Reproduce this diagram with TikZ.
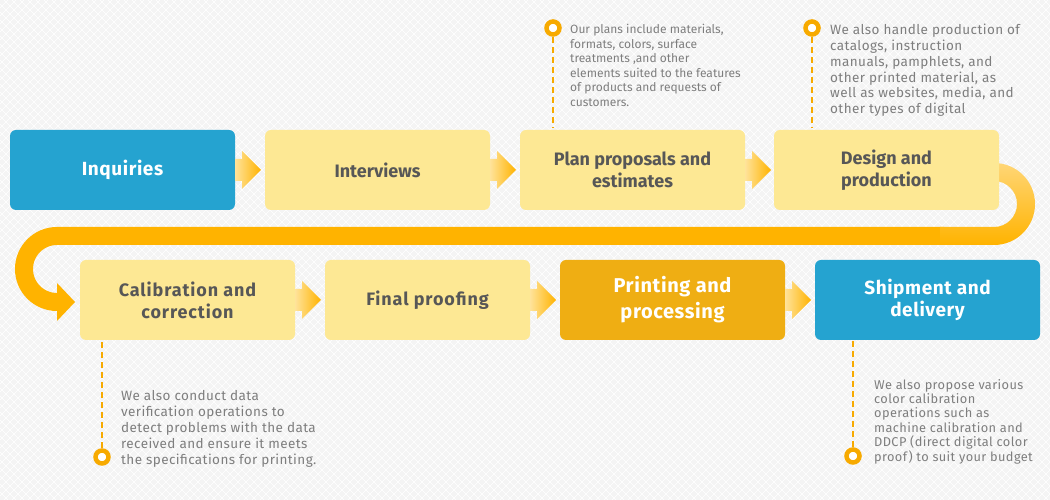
\documentclass[tikz,border=0pt]{standalone}
\usepackage{fontspec}
\setmainfont{Fira Sans}
\usetikzlibrary{positioning, calc, backgrounds}

\definecolor{flowblue}{HTML}{25A3D0}
\definecolor{flowpale}{HTML}{FDE894}
\definecolor{flowgold}{HTML}{EFAE13}
\definecolor{flowamber}{HTML}{FFB300}
\definecolor{flowlight}{HTML}{FFE39A}
\definecolor{bandlight}{HTML}{FFD676}
\definecolor{flowink}{HTML}{575757}
\definecolor{notegrey}{HTML}{7E7E7E}
\definecolor{dotorange}{HTML}{F7AA00}
\definecolor{bgpaper}{HTML}{F4F4F4}

\begin{document}
\begin{tikzpicture}[
    x=1pt, y=1pt,
    stage/.style={rectangle, fill=flowpale, rounded corners=6pt, minimum height=80pt, inner sep=0pt, outer sep=0pt, align=center, text=flowink, font=\fontsize{18}{22}\selectfont\bfseries},
    widestage/.style={stage, font=\fontsize{18}{22}\selectfont\bfseries\addfontfeature{LetterSpace=5}},
    keystage/.style={stage, fill=flowblue, text=white, font=\fontsize{19}{22}\selectfont\bfseries\addfontfeature{LetterSpace=3}},
    stepflow/.style={left color=flowlight, right color=flowamber},
    band/.style={draw=flowamber, line width=18pt},
    bandshade/.style={top color=bandlight, bottom color=flowamber},
    dot/.style={circle, draw=dotorange, line width=4.5pt, fill=white, minimum size=13pt, inner sep=0pt},
    leader/.style={draw=dotorange, line width=2pt, dash pattern=on 6pt off 4pt},
    note/.style={anchor=north west, inner sep=0pt, align=left, text=notegrey, font=\fontsize{12}{15.5}\selectfont\addfontfeature{LetterSpace=3}}
]
    \useasboundingbox (0,0) rectangle (1050,500);

    \node[keystage, minimum width=225pt] (inq) at (122.5,330) {Inquiries};
    \node[stage, minimum width=225pt, right=30pt of inq] (intv) {Interviews};
    \node[stage, minimum width=225pt, right=30pt of intv] (plan) {Plan proposals and\\estimates};
    \node[stage, minimum width=225pt, right=29pt of plan] (design) {Design and\\production};

    \node[widestage, minimum width=215pt] (calib) at (187.5,200) {Calibration and\\correction};
    \node[widestage, minimum width=205pt, right=30pt of calib] (final) {Final proofing};
    \node[keystage, fill=flowgold, minimum width=225pt, right=30pt of final, font=\fontsize{20}{26}\selectfont\bfseries\addfontfeature{LetterSpace=3}] (print) {Printing and\\processing};
    \node[keystage, minimum width=225pt, right=30pt of print] (ship) {Shipment and\\delivery};

    \foreach \a/\b in {inq/intv, intv/plan, plan/design, calib/final, final/print, print/ship}
        \shade[stepflow] ($(\a.east)+(0,11)$) -- ++(7,0) -- ++(0,8) -- ++(19,-19) -- ++(-19,-19) -- ++(0,8) -- ++(-7,0) -- cycle;

    \coordinate (turnR) at ($(design.east)+(-5,-34)$);
    \begin{scope}[on background layer]
        \fill[bgpaper] (0,0) rectangle (1050,500);
        \clip (0,0) rectangle (1050,500);
        \foreach \k in {-500,-492,...,1050} {
            \draw[white, line width=0.6pt] (\k,0) -- ++(500,500);
            \draw[white, line width=0.6pt] (\k+500,0) -- ++(-500,500);
        }
        \draw[band] ($(turnR)+(-50,-32)$) -- ($(calib.west)+(-23,64)$) arc[start angle=90, end angle=270, radius=33] -- ++(1,0);
        \fill[flowamber] ($(calib.west)+(-23,17)$) -- ($(calib.west)+(-5,-2)$) -- ($(calib.west)+(-23,-21)$) -- cycle;
        \shade[bandshade] ($(turnR)+(-15,41)$) -- ++(15,0) arc[start angle=90, end angle=-90, radius=41] -- ++(-54,0) -- ++(0,18) -- ++(54,0) arc[start angle=-90, end angle=90, radius=23] -- ++(-15,0) -- cycle;
    \end{scope}

    \node[dot] (dot1) at (553,472) {};
    \node[dot] (dot2) at (812,472) {};
    \node[dot] (dot3) at (102,43) {};
    \node[dot] (dot4) at (853,44) {};

    \draw[leader] (dot1.south) -- ($(dot1.south |- plan.north)+(0,2)$);
    \draw[leader] (dot2.south) -- ($(dot2.south |- design.north)+(0,2)$);
    \draw[leader] (dot3.north) -- ($(dot3.north |- calib.south)+(0,-1)$);
    \draw[leader] (dot4.north) -- ($(dot4.north |- ship.south)+(0,-1)$);

    \node[note, font=\fontsize{12}{14.5}\selectfont] (note1) at (570,476) {Our plans include materials,\\formats, colors, surface\\treatments ,and other\\elements suited to the features\\of products and requests of\\customers.};
    \node[note, font=\fontsize{13.5}{15.8}\selectfont\addfontfeature{LetterSpace=3}] (note2) at (830,476) {We also handle production of\\catalogs, instruction\\manuals, pamphlets, and\\other printed material, as\\well as websites, media, and\\other types of digital};
    \node[note, font=\fontsize{13.5}{16}\selectfont\addfontfeature{LetterSpace=3}] (note3) at (121,110) {We also conduct data\\verification operations to\\detect problems with the data\\received and ensure it meets\\the specifications for printing.};
    \node[note, font=\fontsize{12.8}{14.4}\selectfont\addfontfeature{LetterSpace=3}] (note4) at (874,121) {We also propose various\\color calibration\\operations such as\\machine calibration and\\DDCP (direct digital color\\proof) to suit your budget};
\end{tikzpicture}
\end{document}
